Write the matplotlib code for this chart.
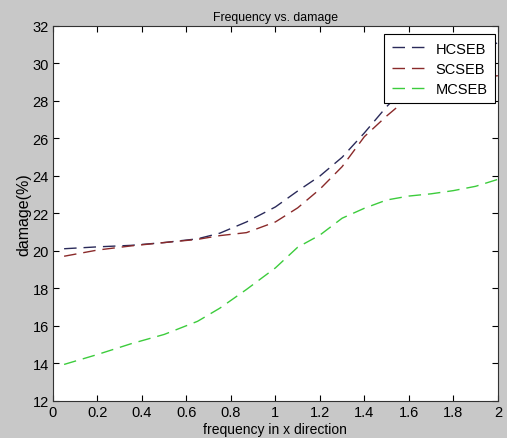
import matplotlib
matplotlib.use("Agg")
import matplotlib.pyplot as plt

freq = [0.05, 0.2, 0.35, 0.5, 0.65, 0.75, 0.87, 1.0, 1.1, 1.2, 1.3, 1.4, 1.5, 1.6, 1.7, 1.8, 1.9, 2.0]
hcseb = [20.12, 20.22, 20.3, 20.45, 20.65, 20.95, 21.55, 22.35, 23.2, 24.0, 25.0, 26.3, 27.7, 28.9, 29.7, 30.3, 30.75, 31.1]
scseb = [19.72, 20.05, 20.27, 20.45, 20.62, 20.82, 20.98, 21.55, 22.3, 23.3, 24.5, 26.1, 27.2, 28.2, 28.7, 29.0, 29.2, 29.35]
mcseb = [13.95, 14.48, 15.05, 15.55, 16.25, 16.95, 17.95, 19.1, 20.2, 20.85, 21.75, 22.28, 22.72, 22.93, 23.05, 23.22, 23.45, 23.82]

plt.rcParams["font.family"] = ["Liberation Sans", "DejaVu Sans"]

fig = plt.figure(figsize=(5.07, 4.39), dpi=100, facecolor="#c8c8c8")
ax = fig.add_axes([0.1045, 0.0843, 0.8775, 0.8542])

# Plot the three damage curves
ax.plot(freq, hcseb, color="#2a2a5a", lw=1, dashes=(9, 5), label="HCSEB")
ax.plot(freq, scseb, color="#8a2a2a", lw=1, dashes=(9, 5), label="SCSEB")
ax.plot(freq, mcseb, color="#3ccc3c", lw=1, dashes=(9, 5), label="MCSEB")

ax.set_xlim(0, 2)
ax.set_ylim(12, 32)
ax.set_xticks([0, 0.2, 0.4, 0.6, 0.8, 1, 1.2, 1.4, 1.6, 1.8, 2])
ax.set_xticklabels(["0", "0.2", "0.4", "0.6", "0.8", "1", "1.2", "1.4", "1.6", "1.8", "2"])
ax.set_yticks(range(12, 33, 2))
ax.tick_params(direction="in", top=True, right=True, labelsize=10.5, length=4, pad=3)
for s in ax.spines.values():
    s.set_linewidth(0.8)
    s.set_color("#333333")

ax.set_title("Frequency vs. damage", fontsize=8.8, pad=4)
ax.set_xlabel("frequency in x direction", fontsize=10, labelpad=2)
ax.set_ylabel("damage(%)", fontsize=11.5, labelpad=1)

leg = ax.legend(loc="upper right", bbox_to_anchor=(0.993, 0.978), fontsize=10.5,
                handlelength=2.6, fancybox=False, framealpha=1, borderpad=0.5,
                labelspacing=0.42, handletextpad=0.4, borderaxespad=0)
leg.get_frame().set_edgecolor("black")
leg.get_frame().set_linewidth(0.8)

fig.savefig("out.png", dpi=100, facecolor=fig.get_facecolor())
